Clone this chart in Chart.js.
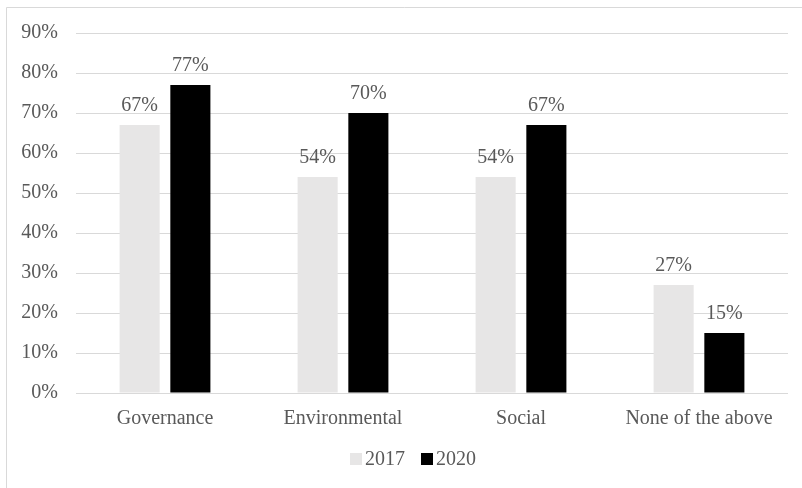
<!DOCTYPE html>
<html>
<head>
<meta charset="utf-8">
<script src="https://cdn.jsdelivr.net/npm/chart.js@4.4.0/dist/chart.umd.min.js"></script>
<style>
  html, body { margin: 0; padding: 0; background: #fff; }
  #wrap { width: 802px; height: 488px; }
</style>
</head>
<body>
<div id="wrap"><canvas id="mycanvas" width="802" height="488"></canvas></div>
<script>
var categories = ["Governance", "Environmental", "Social", "None of the above"];
var y2017 = [67, 54, 54, 27];
var y2020 = [77, 70, 67, 15];
var yTicks = [0, 10, 20, 30, 40, 50, 60, 70, 80, 90];

var textColor = "#595959";
var fontFamily = "'Liberation Serif', 'Times New Roman', serif";
var fontSize = 20;

// outer frame (only top and left edges fall inside the canvas)
var framePlugin = {
  id: "frame",
  beforeDraw: function(chart) {
    var ctx = chart.ctx;
    ctx.save();
    ctx.fillStyle = "#fff";
    ctx.fillRect(0, 0, chart.width, chart.height);
    ctx.strokeStyle = "#d9d9d9";
    ctx.lineWidth = 1;
    ctx.beginPath();
    ctx.moveTo(6.5, chart.height);
    ctx.lineTo(6.5, 7.5);
    ctx.lineTo(chart.width, 7.5);
    ctx.stroke();
    ctx.restore();
  }
};

// value labels above each bar
var valueLabels = {
  id: "valueLabels",
  afterDatasetsDraw: function(chart) {
    var ctx = chart.ctx;
    ctx.save();
    ctx.font = fontSize + "px " + fontFamily;
    ctx.fillStyle = textColor;
    ctx.textAlign = "center";
    ctx.textBaseline = "alphabetic";
    chart.data.datasets.forEach(function(ds, i) {
      chart.getDatasetMeta(i).data.forEach(function(bar, j) {
        ctx.fillText(ds.data[j] + "%", bar.x, bar.y - 14);
      });
    });
    ctx.restore();
  }
};

// compact legend: small square, tight gap, centred under the chart
var bottomLegend = {
  id: "bottomLegend",
  afterDraw: function(chart) {
    var ctx = chart.ctx;
    var box = 12, gap = 3, itemGap = 16, cy = 459, cx = 413;
    ctx.save();
    ctx.font = fontSize + "px " + fontFamily;
    ctx.textBaseline = "middle";
    ctx.textAlign = "left";
    var items = chart.data.datasets.map(function(ds) {
      return { label: ds.label, color: ds.backgroundColor, w: ctx.measureText(ds.label).width };
    });
    var total = 0;
    items.forEach(function(it, i) {
      total += box + gap + it.w + (i > 0 ? itemGap : 0);
    });
    var x = cx - total / 2;
    items.forEach(function(it) {
      ctx.fillStyle = it.color;
      ctx.fillRect(x, cy - box / 2, box, box);
      ctx.fillStyle = textColor;
      ctx.fillText(it.label, x + box + gap, cy + 1);
      x += box + gap + it.w + itemGap;
    });
    ctx.restore();
  }
};

var ctx = document.getElementById("mycanvas");

var chart = new Chart(ctx, {
  type: "bar",
  data: {
    labels: categories,
    datasets: [
      {
        label: "2017",
        data: y2017,
        backgroundColor: "#e7e6e6",
        categoryPercentage: 0.57,
        barPercentage: 0.79
      },
      {
        label: "2020",
        data: y2020,
        backgroundColor: "#000000",
        categoryPercentage: 0.57,
        barPercentage: 0.79
      }
    ]
  },
  options: {
    responsive: false,
    animation: false,
    layout: { padding: { top: 33, right: 14, left: 0, bottom: 59 } },
    plugins: {
      legend: { display: false },
      tooltip: { enabled: false }
    },
    scales: {
      x: {
        afterFit: function(scale) { scale.height = 36; },
        grid: { display: false, drawTicks: false },
        border: { display: false },
        ticks: {
          color: textColor,
          padding: 14,
          font: { family: fontFamily, size: fontSize }
        }
      },
      y: {
        min: 0,
        max: 90,
        afterFit: function(scale) { scale.width = 76; },
        afterBuildTicks: function(scale) {
          scale.ticks = yTicks.map(function(v) { return { value: v }; });
        },
        grid: { color: "#d9d9d9", lineWidth: 1, drawTicks: false },
        border: { display: false },
        ticks: {
          color: textColor,
          padding: 18,
          font: { family: fontFamily, size: fontSize },
          callback: function(v) { return v + "%"; }
        }
      }
    }
  },
  plugins: [framePlugin, valueLabels, bottomLegend]
});
</script>
</body>
</html>
